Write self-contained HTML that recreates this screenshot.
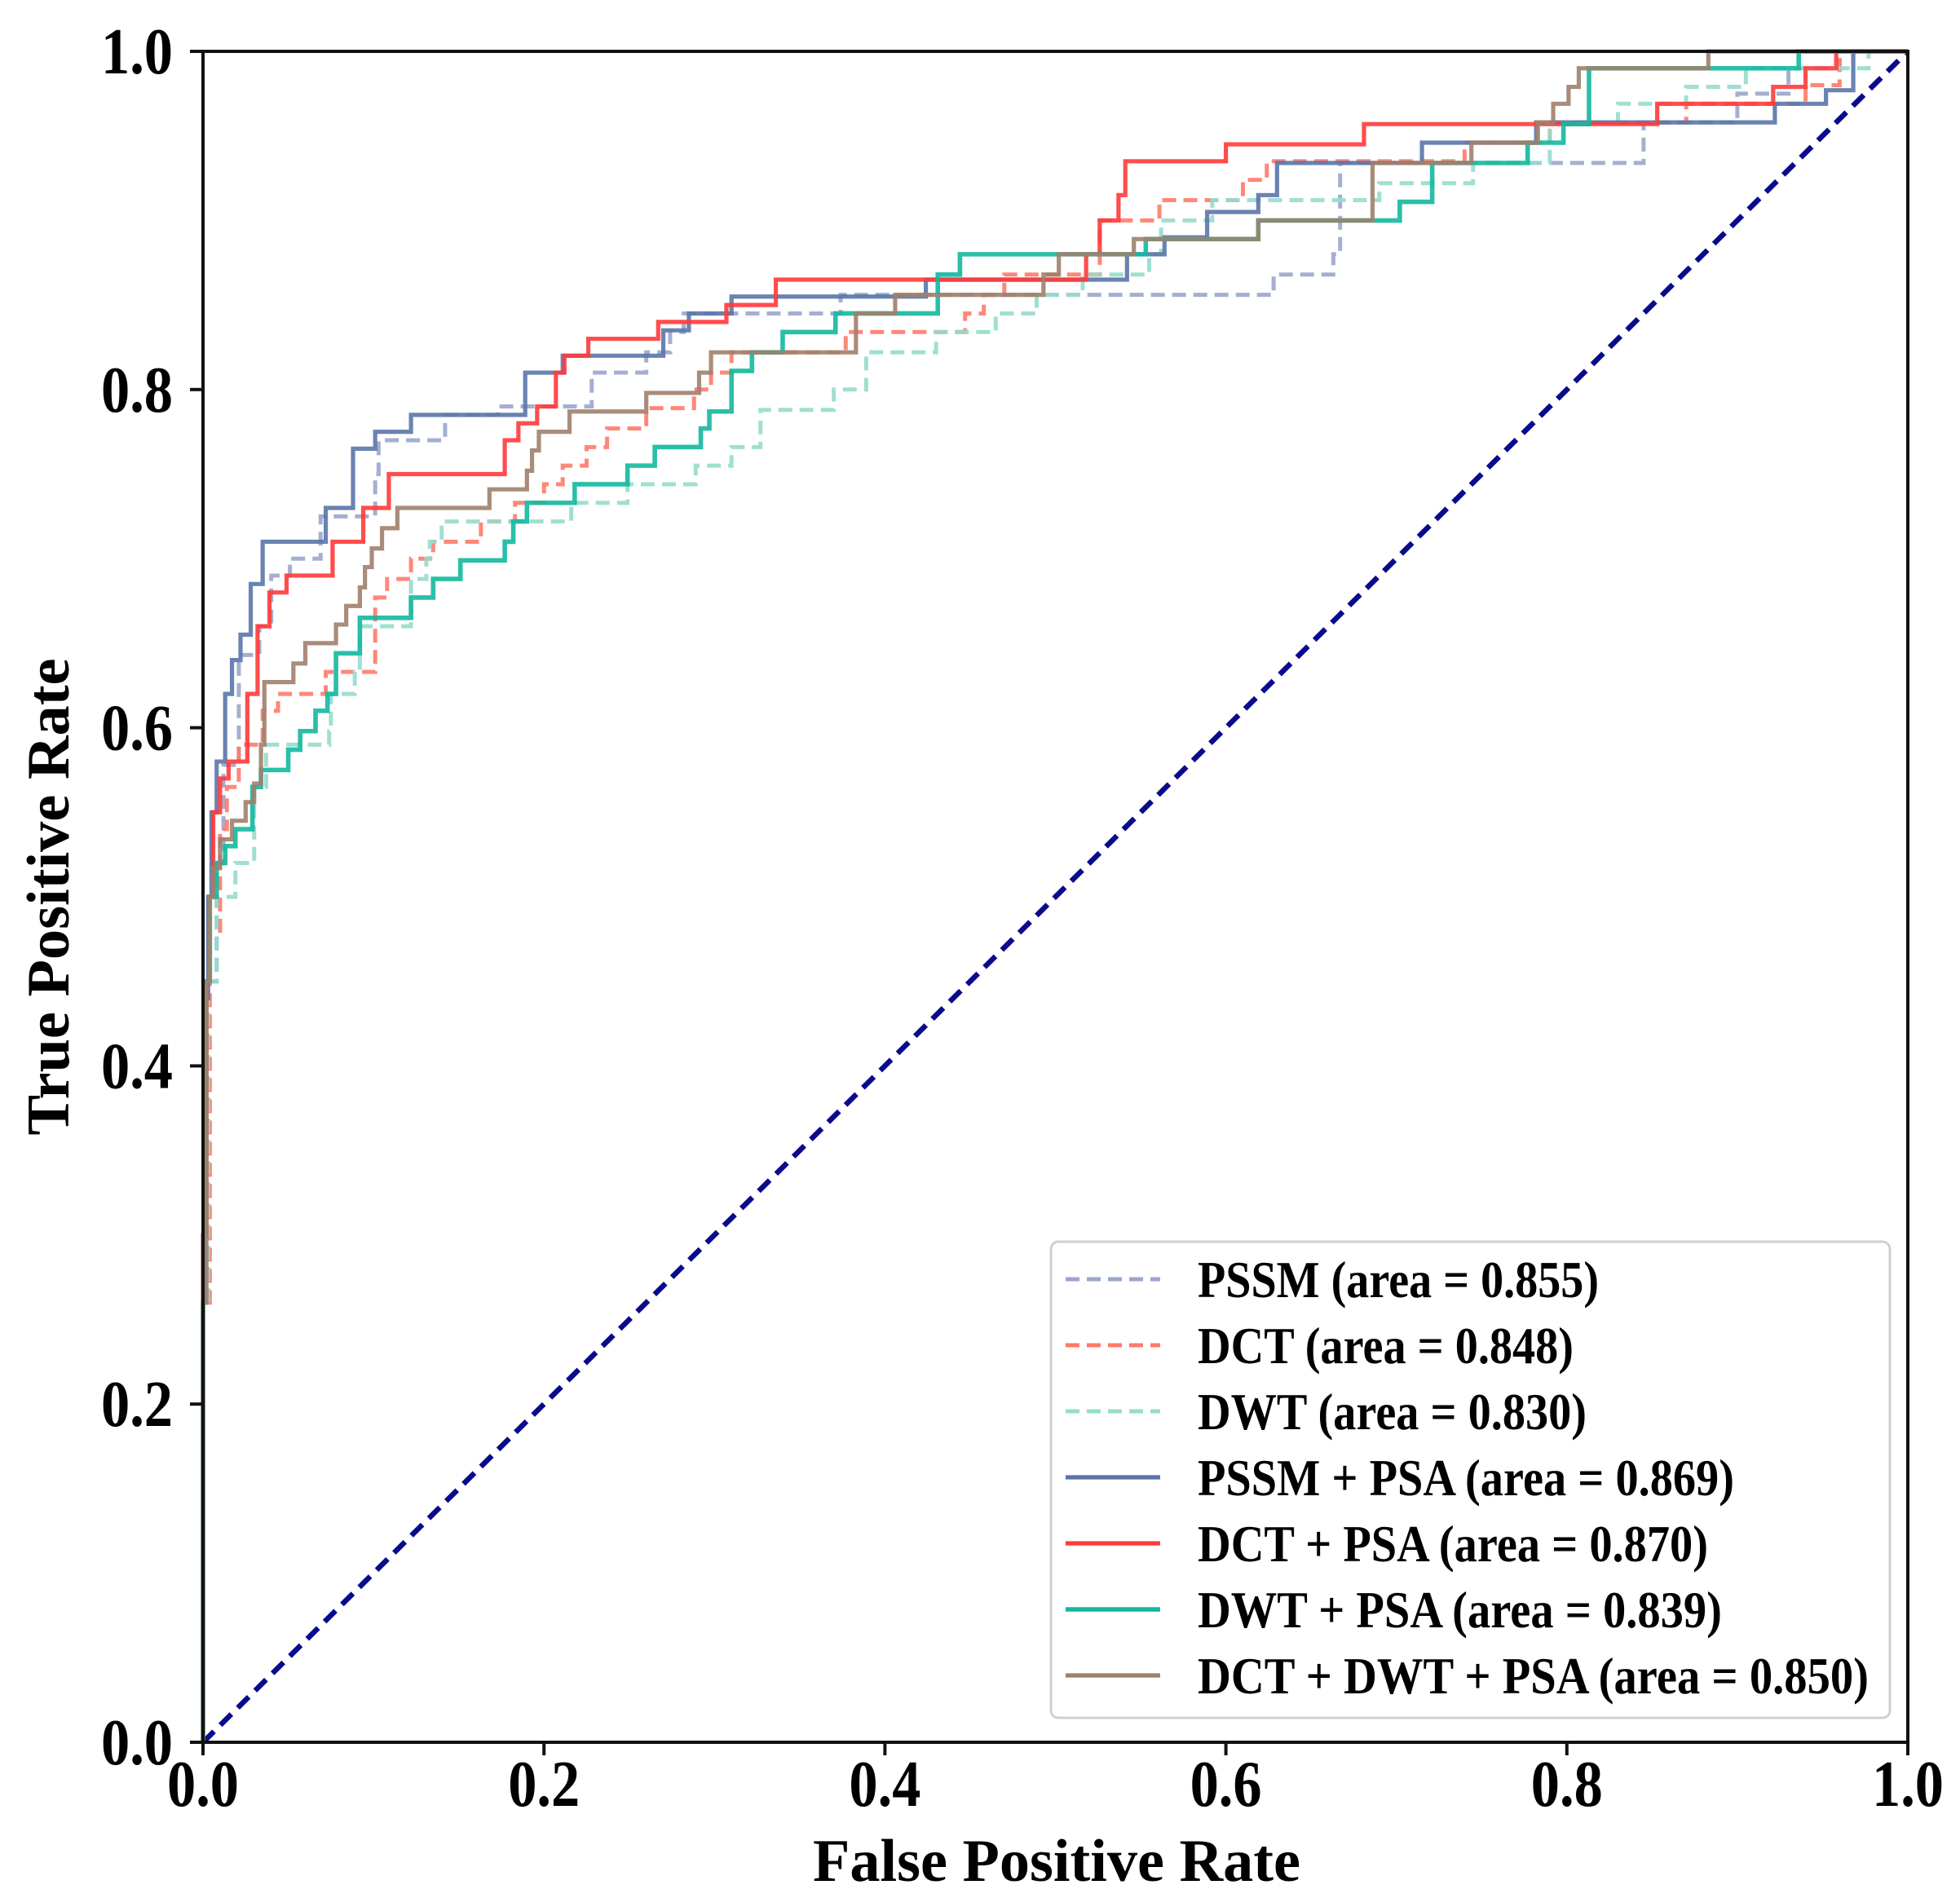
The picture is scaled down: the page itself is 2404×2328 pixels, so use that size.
<!DOCTYPE html>
<html><head><meta charset="utf-8"><style>
html,body{margin:0;padding:0;background:#fff;}
svg{display:block;font-family:"Liberation Serif",serif;font-weight:bold;}
</style></head><body>
<svg id="chart" width="2404" height="2328" viewBox="0 0 2404 2328" xmlns="http://www.w3.org/2000/svg">
<rect x="0" y="0" width="2404" height="2328" fill="#fff"/>
<g id="curves"></g>
<g id="axes"></g>
<g id="legend"></g>
<text x="1296" y="2307" font-size="74" text-anchor="middle" textLength="598" lengthAdjust="spacingAndGlyphs">False Positive Rate</text>
<text transform="translate(84,1100) rotate(-90)" x="0" y="0" font-size="74" text-anchor="middle" textLength="585" lengthAdjust="spacingAndGlyphs">True Positive Rate</text>
</svg>
<script>
const tickValues = [0.0, 0.2, 0.4, 0.6, 0.8, 1.0];
const tickLabels = ["0.0", "0.2", "0.4", "0.6", "0.8", "1.0"];
const seriesNames = ["PSSM (area = 0.855)", "DCT (area = 0.848)", "DWT (area = 0.830)", "PSSM + PSA (area = 0.869)", "DCT + PSA (area = 0.870)", "DWT + PSA (area = 0.839)", "DCT + DWT + PSA (area = 0.850)"];
const pssmFpr = [0,0.003,0.008,0.012,0.021,0.033,0.04,0.051,0.069,0.101,0.103,0.142,0.173,0.228,0.26,0.274,0.282,0.374,0.628,0.663,0.667,0.845,0.9,0.93,0.96];
const pssmTpr = [0.26,0.45,0.52,0.578,0.643,0.66,0.69,0.70,0.725,0.75,0.77,0.785,0.79,0.81,0.822,0.834,0.845,0.856,0.868,0.88,0.934,0.958,0.975,0.99,1.0];
const dctFpr = [0,0.004,0.01,0.014,0.021,0.035,0.044,0.072,0.101,0.108,0.122,0.135,0.163,0.183,0.2,0.211,0.225,0.237,0.26,0.288,0.298,0.31,0.377,0.447,0.458,0.47,0.526,0.561,0.61,0.624,0.74,0.79,0.87,0.94,0.96];
const dctTpr = [0.26,0.48,0.54,0.565,0.59,0.61,0.62,0.633,0.677,0.688,0.70,0.71,0.722,0.733,0.744,0.755,0.766,0.777,0.789,0.80,0.81,0.822,0.834,0.845,0.856,0.868,0.90,0.912,0.924,0.935,0.946,0.958,0.969,0.98,1.0];
const dwtFpr = [0,0.003,0.008,0.019,0.03,0.037,0.074,0.075,0.089,0.092,0.122,0.131,0.133,0.14,0.216,0.249,0.289,0.31,0.327,0.37,0.389,0.43,0.465,0.489,0.516,0.555,0.562,0.592,0.69,0.745,0.79,0.83,0.87,0.905,0.977];
const dwtTpr = [0.26,0.45,0.5,0.52,0.565,0.59,0.598,0.62,0.633,0.66,0.688,0.70,0.71,0.722,0.733,0.744,0.755,0.766,0.788,0.80,0.822,0.834,0.845,0.856,0.868,0.88,0.90,0.912,0.922,0.934,0.958,0.969,0.979,0.99,1.0];
const pssmPsaFpr = [0,0.001,0.003,0.005,0.008,0.013,0.017,0.022,0.028,0.035,0.072,0.088,0.101,0.122,0.189,0.211,0.27,0.285,0.31,0.424,0.542,0.564,0.589,0.619,0.63,0.715,0.782,0.922,0.952,0.968];
const pssmPsaTpr = [0.26,0.44,0.5,0.55,0.58,0.62,0.64,0.655,0.685,0.71,0.73,0.765,0.775,0.785,0.81,0.82,0.835,0.845,0.855,0.865,0.88,0.89,0.905,0.915,0.934,0.946,0.958,0.969,0.977,1.0];
const dctPsaFpr = [0,0.002,0.004,0.006,0.01,0.015,0.026,0.032,0.039,0.049,0.076,0.094,0.109,0.177,0.185,0.196,0.207,0.212,0.226,0.267,0.307,0.336,0.518,0.526,0.537,0.541,0.6,0.681,0.853,0.921,0.94,0.958];
const dctPsaTpr = [0.3,0.45,0.5,0.55,0.57,0.58,0.62,0.66,0.68,0.69,0.71,0.73,0.75,0.77,0.78,0.79,0.81,0.82,0.83,0.84,0.85,0.865,0.88,0.90,0.915,0.935,0.945,0.957,0.969,0.979,0.99,1.0];
const dwtPsaFpr = [0,0.001,0.004,0.008,0.013,0.019,0.029,0.034,0.05,0.057,0.066,0.073,0.078,0.092,0.122,0.135,0.151,0.177,0.182,0.19,0.218,0.249,0.265,0.292,0.297,0.31,0.322,0.34,0.371,0.431,0.444,0.553,0.619,0.702,0.721,0.777,0.798,0.813,0.936];
const dwtPsaTpr = [0.26,0.45,0.5,0.52,0.53,0.54,0.565,0.575,0.587,0.598,0.61,0.62,0.644,0.665,0.677,0.688,0.699,0.71,0.722,0.733,0.744,0.755,0.766,0.777,0.787,0.811,0.822,0.834,0.845,0.868,0.88,0.889,0.90,0.911,0.934,0.946,0.957,0.99,1.0];
const allFpr = [0,0.002,0.004,0.006,0.01,0.017,0.025,0.03,0.034,0.036,0.053,0.06,0.078,0.084,0.092,0.095,0.099,0.105,0.114,0.168,0.19,0.193,0.197,0.215,0.26,0.291,0.298,0.383,0.406,0.493,0.502,0.546,0.619,0.686,0.744,0.783,0.792,0.801,0.807,0.883];
const allTpr = [0.26,0.45,0.5,0.517,0.534,0.545,0.556,0.567,0.59,0.627,0.638,0.65,0.661,0.672,0.683,0.695,0.706,0.718,0.73,0.741,0.752,0.764,0.775,0.787,0.798,0.81,0.822,0.845,0.856,0.868,0.88,0.889,0.90,0.934,0.946,0.958,0.969,0.979,0.99,1.0];

const X0 = 249, X1 = 2340, Y0 = 2137, Y1 = 63;
function xs(v){ return X0 + v*(X1-X0); }
function ys(v){ return Y0 - v*(Y0-Y1); }
const NS = "http://www.w3.org/2000/svg";
const curves = document.getElementById('curves');
const axes = document.getElementById('axes');
const legend = document.getElementById('legend');

const seriesList = [
  {f:pssmFpr, t:pssmTpr, c:"#9aa6cc", dash:"17 9", w:5, name:"pssm-curve"},
  {f:dctFpr, t:dctTpr, c:"#ff7a6a", dash:"17 9", w:5, name:"dct-curve"},
  {f:dwtFpr, t:dwtTpr, c:"#96dccc", dash:"17 9", w:5, name:"dwt-curve"},
  {f:pssmPsaFpr, t:pssmPsaTpr, c:"#5a75a8", dash:null, w:5.2, name:"pssm-psa-curve"},
  {f:dctPsaFpr, t:dctPsaTpr, c:"#ff3a3a", dash:null, w:5.2, name:"dct-psa-curve"},
  {f:dwtPsaFpr, t:dwtPsaTpr, c:"#12b89e", dash:null, w:5.6, name:"dwt-psa-curve"},
  {f:allFpr, t:allTpr, c:"#a0806c", dash:null, w:5.2, name:"dct-dwt-psa-curve"}
];

const diag = document.createElementNS(NS,'line');


diag.setAttribute('x1',xs(0)); diag.setAttribute('y1',ys(0));
diag.setAttribute('x2',xs(1)); diag.setAttribute('y2',ys(1));
diag.setAttribute('stroke','#0a0a8c'); diag.setAttribute('stroke-width','6.5');
diag.setAttribute('stroke-dasharray','19 11');
curves.appendChild(diag);

seriesList.forEach(function(s){
  let d = 'M' + xs(0) + ',' + ys(0);
  for (let i=0;i<s.f.length;i++){
    d += ' L' + xs(s.f[i]) + ',' + ys(i===0?0:s.t[i-1]);
    d += ' L' + xs(s.f[i]) + ',' + ys(s.t[i]);
  }
  d += ' L' + xs(1) + ',' + ys(s.t[s.t.length-1]);
  const p = document.createElementNS(NS,'path');
  
  
  p.setAttribute('d', d);
  p.setAttribute('fill','none');
  p.setAttribute('stroke', s.c);
  p.setAttribute('stroke-width', s.w);
  p.setAttribute('stroke-opacity','0.9');
  if (s.dash) p.setAttribute('stroke-dasharray', s.dash);
  curves.appendChild(p);
});

const frame = document.createElementNS(NS,'rect');


frame.setAttribute('x',X0); frame.setAttribute('y',Y1);
frame.setAttribute('width',X1-X0); frame.setAttribute('height',Y0-Y1);
frame.setAttribute('fill','none'); frame.setAttribute('stroke','#111'); frame.setAttribute('stroke-width','4');
axes.appendChild(frame);

tickValues.forEach(function(v,i){
  const tx = document.createElementNS(NS,'line');
  
  
  tx.setAttribute('x1',xs(v)); tx.setAttribute('x2',xs(v));
  tx.setAttribute('y1',Y0); tx.setAttribute('y2',Y0+16);
  tx.setAttribute('stroke','#111'); tx.setAttribute('stroke-width','4');
  axes.appendChild(tx);
  const lx = document.createElementNS(NS,'text');
  
  
  lx.setAttribute('x',xs(v)); lx.setAttribute('y',2215);
  lx.setAttribute('font-size','80'); lx.setAttribute('text-anchor','middle');
  lx.setAttribute('textLength','88'); lx.setAttribute('lengthAdjust','spacingAndGlyphs');
  lx.textContent = tickLabels[i];
  axes.appendChild(lx);
  const ty = document.createElementNS(NS,'line');
  
  
  ty.setAttribute('x1',X0-16); ty.setAttribute('x2',X0);
  ty.setAttribute('y1',ys(v)); ty.setAttribute('y2',ys(v));
  ty.setAttribute('stroke','#111'); ty.setAttribute('stroke-width','4');
  axes.appendChild(ty);
  const ly = document.createElementNS(NS,'text');
  
  
  ly.setAttribute('x',212); ly.setAttribute('y',ys(v)+27);
  ly.setAttribute('font-size','80'); ly.setAttribute('text-anchor','end');
  ly.setAttribute('textLength','88'); ly.setAttribute('lengthAdjust','spacingAndGlyphs');
  ly.textContent = tickLabels[i];
  axes.appendChild(ly);
});

const lbox = document.createElementNS(NS,'rect');


lbox.setAttribute('x',1289); lbox.setAttribute('y',1523);
lbox.setAttribute('width',1029); lbox.setAttribute('height',584);
lbox.setAttribute('rx',9);
lbox.setAttribute('fill','#fff'); lbox.setAttribute('fill-opacity','0.85');
lbox.setAttribute('stroke','#d0d0d0'); lbox.setAttribute('stroke-width','3');
legend.appendChild(lbox);
const textLens = [492, 461, 477, 658, 626, 643, 823];
seriesList.forEach(function(s,i){
  const cy = 1569 + i*81;
  const h = document.createElementNS(NS,'line');
  
  
  h.setAttribute('x1',1307); h.setAttribute('x2',1423);
  h.setAttribute('y1',cy); h.setAttribute('y2',cy);
  h.setAttribute('stroke',s.c); h.setAttribute('stroke-width',s.w);
  if (s.dash) h.setAttribute('stroke-dasharray', s.dash);
  legend.appendChild(h);
  const t = document.createElementNS(NS,'text');
  
  
  t.setAttribute('x',1469); t.setAttribute('y',cy+22);
  t.setAttribute('font-size','64');
  t.setAttribute('textLength',textLens[i]); t.setAttribute('lengthAdjust','spacingAndGlyphs');
  t.textContent = seriesNames[i];
  legend.appendChild(t);
});
</script>
</body></html>
